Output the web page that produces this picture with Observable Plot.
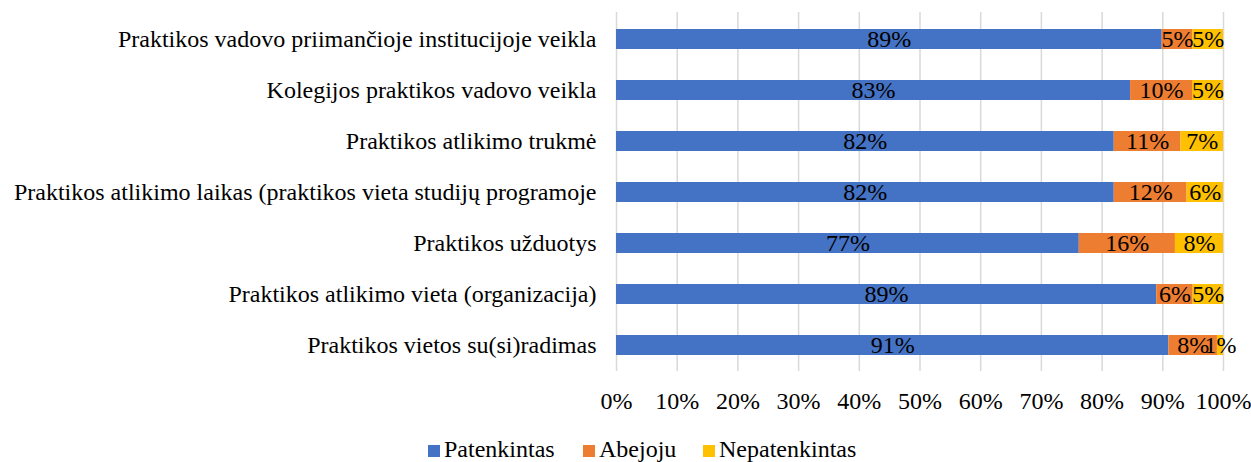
<!DOCTYPE html>
<html>
<head>
<meta charset="utf-8">
<script src="https://cdn.jsdelivr.net/npm/d3@7"></script>
<script src="https://cdn.jsdelivr.net/npm/@observablehq/plot@0.6"></script>
<style>
  body { margin: 0; background: #fff; font-family: "Liberation Serif", "Times New Roman", serif; }
  #chart { position: relative; width: 1251px; height: 462px; overflow: hidden; }
  .lg-item { position: absolute; top: 436px; height: 26px; line-height: 26px; font-size: 24px; color: #000; white-space: nowrap; }
  .lg-sw { position: absolute; left: 0; top: 9px; width: 12px; height: 12px; }
  .lg-tx { position: absolute; left: 16px; top: 0; }
</style>
</head>
<body>
<div id="chart"></div>
<script>
const categories = [
  "Praktikos vadovo priimančioje institucijoje veikla",
  "Kolegijos praktikos vadovo veikla",
  "Praktikos atlikimo trukmė",
  "Praktikos atlikimo laikas (praktikos vieta studijų programoje",
  "Praktikos užduotys",
  "Praktikos atlikimo vieta (organizacija)",
  "Praktikos vietos su(si)radimas"
];
const seriesNames = ["Patenkintas", "Abejoju", "Nepatenkintas"];
const patenkintas   = [89, 83, 82, 82, 77, 89, 91];
const abejoju       = [5, 10, 11, 12, 16, 6, 8];
const nepatenkintas = [5, 5, 7, 6, 8, 5, 1];
const seriesColors  = ["#4472C4", "#ED7D31", "#FFC000"];
const xTicks = [0, 0.1, 0.2, 0.3, 0.4, 0.5, 0.6, 0.7, 0.8, 0.9, 1];

const seriesValues = [patenkintas, abejoju, nepatenkintas];
const rows = categories.flatMap((c, i) =>
  seriesNames.map((s, j) => ({category: c, series: s, value: seriesValues[j][i]}))
);

const pct = d3.format(".0%");
const FONT = "Liberation Serif, Times New Roman, serif";

const plot = Plot.plot({
  width: 1251,
  height: 430,
  marginLeft: 616,
  marginRight: 28,
  marginTop: 12,
  marginBottom: 59,
  style: {fontFamily: FONT, fontSize: "24px", color: "#000", background: "#fff", overflow: "visible"},
  x: {domain: [0, 1], ticks: xTicks, tickFormat: pct, label: null},
  y: {domain: categories, paddingInner: 0.61, paddingOuter: 0.305, label: null},
  color: {domain: seriesNames, range: seriesColors},
  marks: [
    Plot.gridX(xTicks, {stroke: "#d9d9d9", strokeOpacity: 1, strokeWidth: 1.5}),
    Plot.barX(rows, Plot.stackX({offset: "normalize", order: seriesNames, x: "value", y: "category", fill: "series"})),
    Plot.text(rows, Plot.stackX({
      offset: "normalize", order: seriesNames, x: "value", y: "category", z: "series",
      text: d => d.value + "%", fill: "#000", fontSize: 24, fontFamily: FONT
    })),
    Plot.axisX({ticks: xTicks, tickFormat: pct, tickSize: 0, tickPadding: 20, fontSize: 24, fontFamily: FONT, label: null}),
    Plot.axisY({tickSize: 0, tickPadding: 20, fontSize: 24, fontFamily: FONT, label: null})
  ]
});

const chart = document.getElementById("chart");
chart.appendChild(plot);

const legendLefts = [428, 583, 703];
seriesNames.forEach((s, i) => {
  const item = document.createElement("div");
  item.className = "lg-item";
  item.style.left = legendLefts[i] + "px";
  const sw = document.createElement("span");
  sw.className = "lg-sw";
  sw.style.background = seriesColors[i];
  const tx = document.createElement("span");
  tx.className = "lg-tx";
  tx.textContent = s;
  item.appendChild(sw);
  item.appendChild(tx);
  chart.appendChild(item);
});
</script>
</body>
</html>
